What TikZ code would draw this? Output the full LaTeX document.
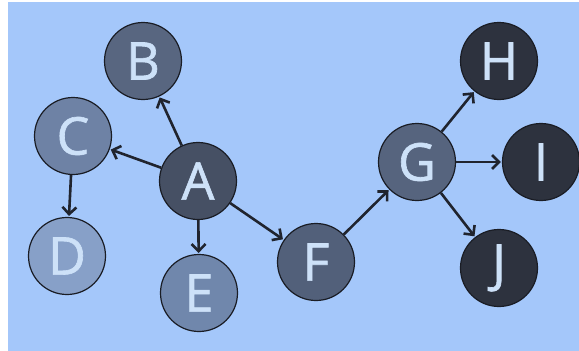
\documentclass[tikz,border=0pt]{standalone}
\usepackage{fontspec}
\setmainfont{Open Sans}
\newfontfamily\vertexfont[FakeBold=1.2]{Open Sans}
\usetikzlibrary{arrows.meta}
\definecolor{bgblue}{RGB}{164,199,250}
\definecolor{edgeink}{RGB}{32,36,46}
\definecolor{labelink}{RGB}{205,225,248}
\definecolor{nA}{RGB}{70,80,100}
\definecolor{nB}{RGB}{88,102,128}
\definecolor{nC}{RGB}{110,130,165}
\definecolor{nD}{RGB}{135,160,200}
\definecolor{nE}{RGB}{112,135,172}
\definecolor{nF}{RGB}{82,96,122}
\definecolor{nG}{RGB}{86,100,126}
\definecolor{nH}{RGB}{45,50,62}
\tikzset{
  vertex/.style={circle, minimum size=77pt, inner sep=0pt, line width=1.2pt,
    draw=edgeink!80!black, text=labelink,
    font=\vertexfont\fontsize{52}{52}\selectfont},
  link/.style={draw=edgeink, line width=2.6pt,
    -{Straight Barb[length=7pt,width=14pt,line width=2.6pt]}, shorten >=1pt}
}
\begin{document}
\begin{tikzpicture}[x=1pt,y=-1pt]
  \useasboundingbox (0,0) rectangle (579,351);
  \fill[white] (0,0) rectangle (579,351);
  \fill[bgblue] (8,2) rectangle (579,351);

  \node[vertex, fill=nA] (A) at (198,181) {A};
  \node[vertex, fill=nB] (B) at (143,61) {B};
  \node[vertex, fill=nC] (C) at (73,136) {C};
  \node[vertex, fill=nD] (D) at (67,256) {D};
  \node[vertex, fill=nE] (E) at (199,293) {E};
  \node[vertex, fill=nF] (F) at (316,262) {F};
  \node[vertex, fill=nG] (G) at (417,162) {G};
  \node[vertex, fill=nH] (H) at (499,61) {H};
  \node[vertex, fill=nH] (I) at (541,162) {I};
  \node[vertex, fill=nH] (J) at (499,268) {J};

  \draw[link] (A) -- (B);
  \draw[link] (A) -- (C);
  \draw[link] (A) -- (E);
  \draw[link] (A) -- (F);
  \draw[link] (C) -- (D);
  \draw[link] (F) -- (G);
  \draw[link] (G) -- (H);
  \draw[link] (G) -- (I);
  \draw[link] (G) -- (J);
\end{tikzpicture}
\end{document}
